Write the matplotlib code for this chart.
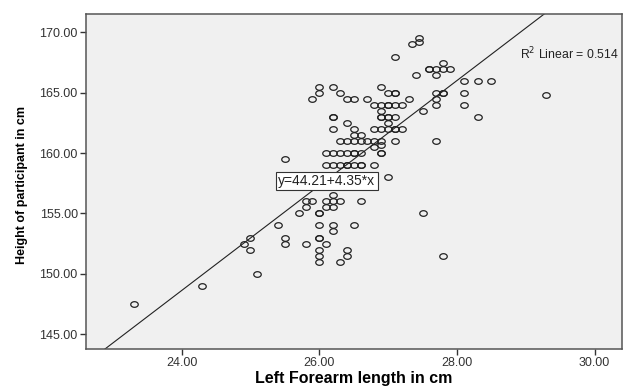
import numpy as np
import matplotlib
matplotlib.use("Agg")
import matplotlib.pyplot as plt
from matplotlib.path import Path

# ---- data ----
forearm = [
    23.3, 24.3, 25.0, 24.9, 25.0, 25.1, 25.5,
    25.4, 25.5, 25.5, 25.7, 25.8, 25.8, 25.8, 25.9,
    26.0, 26.0, 26.0, 26.0, 26.0, 26.1, 26.0, 26.0, 26.0,
    26.1, 26.1, 26.2, 26.2, 26.2, 26.3, 26.2, 26.2, 26.3, 26.5, 26.4, 26.4, 26.6,
    26.1, 26.2, 26.3, 26.4, 26.4, 26.5, 26.6, 26.6, 26.8,
    27.0,
    26.1, 26.2, 26.3, 26.4, 26.5, 26.5, 26.6, 26.9, 26.9,
    26.8, 26.9,
    26.3, 26.4, 26.5, 26.6, 26.7, 26.8, 26.9, 27.1, 27.7,
    26.5, 26.6,
    26.2, 26.5, 26.8, 26.9, 27.0, 27.1, 27.1, 27.2,
    26.4, 27.0,
    26.2, 26.2, 26.9, 26.9, 27.0, 27.0, 27.1, 28.3,
    26.9, 27.5,
    26.8, 26.9, 27.0, 27.0, 27.1, 27.2, 27.7, 28.1,
    25.9, 26.4, 26.5, 26.7, 27.3, 27.7,
    26.0, 26.3, 27.0, 27.1, 27.1, 27.7, 27.8, 27.8, 28.1,
    26.0, 26.2, 26.9,
    28.1, 28.3, 28.5,
    27.4, 27.7,
    27.6, 27.6, 27.7, 27.8, 27.9, 27.8,
    27.1, 27.35, 27.45, 27.45,
    27.5, 27.8, 29.3,
]
height = [
    147.5, 149.0, 153.0, 152.5, 152.0, 150.0, 159.5,
    154.0, 153.0, 152.5, 155.0, 152.5, 156.0, 155.5, 156.0,
    154.0, 155.0, 155.0, 153.0, 153.0, 152.5, 152.0, 151.5, 151.0,
    156.0, 155.5, 156.5, 156.0, 155.5, 156.0, 154.0, 153.5, 151.0, 154.0, 152.0, 151.5, 156.0,
    159.0, 159.0, 159.0, 159.0, 159.0, 159.0, 159.0, 159.0, 159.0,
    158.0,
    160.0, 160.0, 160.0, 160.0, 160.0, 160.0, 160.0, 160.0, 160.0,
    160.5, 160.7,
    161.0, 161.0, 161.0, 161.0, 161.0, 161.0, 161.0, 161.0, 161.0,
    161.5, 161.5,
    162.0, 162.0, 162.0, 162.0, 162.0, 162.0, 162.0, 162.0,
    162.5, 162.5,
    163.0, 163.0, 163.0, 163.0, 163.0, 163.0, 163.0, 163.0,
    163.5, 163.5,
    164.0, 164.0, 164.0, 164.0, 164.0, 164.0, 164.0, 164.0,
    164.5, 164.5, 164.5, 164.5, 164.5, 164.5,
    165.0, 165.0, 165.0, 165.0, 165.0, 165.0, 165.0, 165.0, 165.0,
    165.5, 165.5, 165.5,
    166.0, 166.0, 166.0,
    166.5, 166.5,
    167.0, 167.0, 167.0, 167.0, 167.0, 167.5,
    168.0, 169.0, 169.2, 169.5,
    155.0, 151.5, 164.8,
]
intercept = 44.21
slope = 4.35
r2 = 0.514
x_ticks = [24.0, 26.0, 28.0, 30.0]
y_ticks = [145.0, 150.0, 155.0, 160.0, 165.0, 170.0]
x_label = "Left Forearm length in cm"
y_label = "Height of participant in cm"

# ---- figure ----
fig = plt.figure(figsize=(6.42, 3.89), dpi=100)
ax = fig.add_axes([0.134, 0.1028, 0.835, 0.861])
ax.set_facecolor("#f0f0f0")

xlim = (22.61, 30.40)
ylim = (143.76, 171.52)
ax.set_xlim(*xlim)
ax.set_ylim(*ylim)

# slightly wide elliptical open marker
t = np.linspace(0, 2 * np.pi, 40)
ell = Path(np.column_stack([np.cos(t), 0.75 * np.sin(t)]), closed=True)
ax.plot(forearm, height, linestyle="none", marker=ell, markersize=5.4,
        markerfacecolor="none", markeredgecolor="#222222", markeredgewidth=0.9)

xs = np.array(xlim)
ax.plot(xs, intercept + slope * xs, color="#222222", linewidth=0.8)

ax.text(26.11, 157.68, f"y={intercept:.2f}+{slope:.2f}*x", ha="center", va="center",
        fontsize=10, family="Liberation Sans", color="#222222",
        bbox=dict(boxstyle="square,pad=0.15", facecolor="white", edgecolor="#333333", linewidth=0.8))
ax.text(28.92, 168.2, f"R$^2$ Linear = {r2:.3f}", ha="left", va="center",
        fontsize=8.8, family="Liberation Sans", color="#222222")

ax.set_xticks(x_ticks)
ax.set_yticks(y_ticks)
ax.set_xticklabels([f"{v:.2f}" for v in x_ticks])
ax.set_yticklabels([f"{v:.2f}" for v in y_ticks])
ax.tick_params(axis="both", direction="out", length=4, width=1, color="#333333",
               labelsize=9, labelcolor="#333333", pad=2)
for lab in ax.get_xticklabels() + ax.get_yticklabels():
    lab.set_family("Liberation Sans")

for s in ax.spines.values():
    s.set_color("#555555")
    s.set_linewidth(1.1)

ax.set_xlabel(x_label, fontsize=11.5, fontweight="bold", family="Liberation Sans",
              va="center")
ax.xaxis.set_label_coords(0.5, -0.087)
ax.set_ylabel(y_label, fontsize=9, fontweight="bold",
              family="Liberation Sans", va="center")
ax.yaxis.set_label_coords(-0.12, 0.49)

fig.savefig("out.png", dpi=100, facecolor="white")
